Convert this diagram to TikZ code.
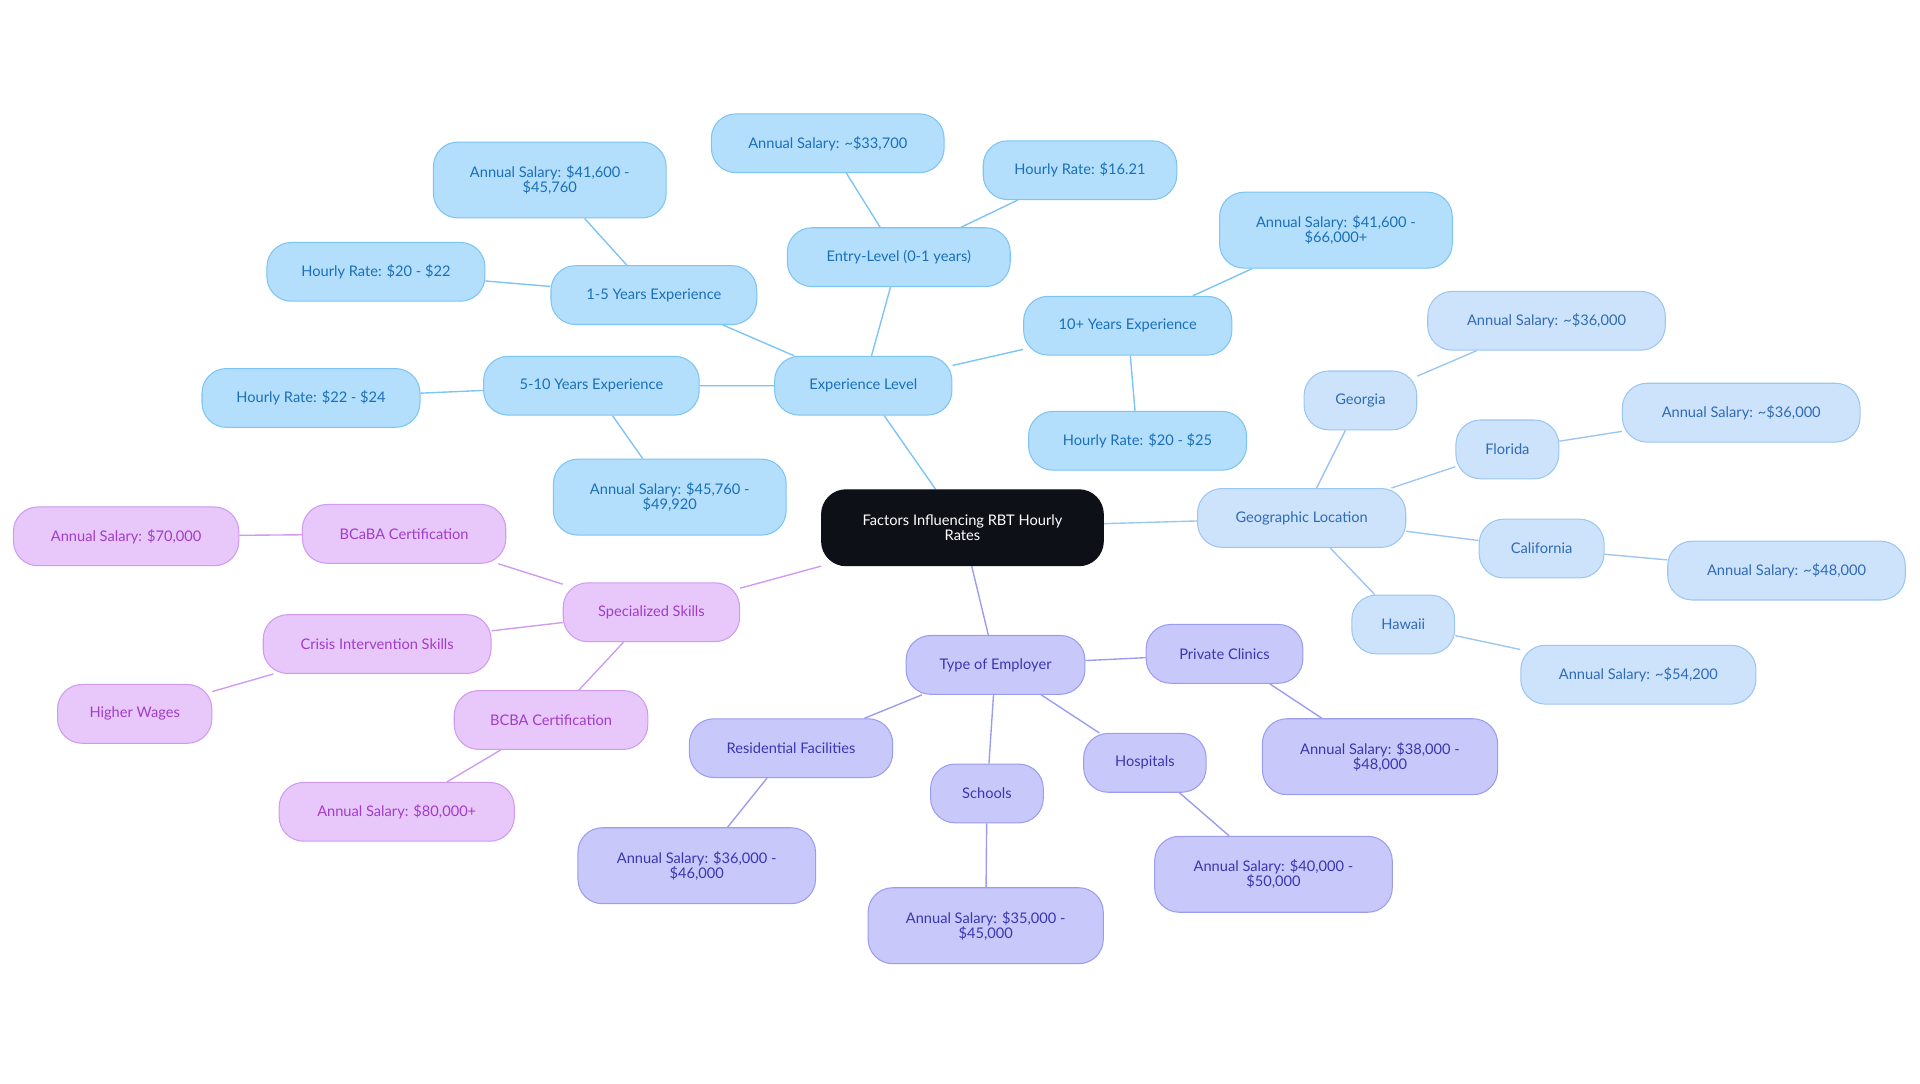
\documentclass[tikz,border=0pt]{standalone}
\usepackage{fontspec}
\setmainfont{Lato}
\usetikzlibrary{backgrounds}
\definecolor{expfill}{HTML}{B3DFFC}\definecolor{expline}{HTML}{7CC4F4}\definecolor{exptext}{HTML}{1A6FB8}
\definecolor{geofill}{HTML}{CDE2FB}\definecolor{geoline}{HTML}{9CC6F2}\definecolor{geotext}{HTML}{2F6CB5}
\definecolor{empfill}{HTML}{C8C9FA}\definecolor{empline}{HTML}{9A9CF0}\definecolor{emptext}{HTML}{3A36B0}
\definecolor{skifill}{HTML}{E8C8FA}\definecolor{skiline}{HTML}{CF9AF0}\definecolor{skitext}{HTML}{A03CC8}
\definecolor{rootfill}{HTML}{0D1117}
\begin{document}
\begin{tikzpicture}[x=0.025cm,y=-0.025cm,
  box/.style={rounded corners=0.5cm, draw, line width=0.6pt, align=center,
    font=\fontsize{8.5}{8.5}\selectfont, inner sep=0pt, minimum height=1.2cm},
  expbox/.style={box, fill=expfill, draw=expline, text=exptext},
  geobox/.style={box, fill=geofill, draw=geoline, text=geotext},
  empbox/.style={box, fill=empfill, draw=empline, text=emptext},
  skibox/.style={box, fill=skifill, draw=skiline, text=skitext},
  tall/.style={minimum height=1.55cm},
  explink/.style={draw=expline, line width=0.8pt},
  geolink/.style={draw=geoline, line width=0.8pt},
  emplink/.style={draw=empline, line width=0.8pt},
  skilink/.style={draw=skiline, line width=0.8pt}]
  \useasboundingbox (0,0) rectangle (1568,885);
  % centre
  \node[box, fill=rootfill, draw=rootfill, text=white, minimum width=5.75cm, minimum height=1.55cm] (root) at (786,431) {Factors Influencing RBT Hourly\\Rates};
  % experience
  \node[expbox, minimum width=3.62cm] (exp) at (705,315) {Experience Level};
  \node[expbox, minimum width=4.55cm] (entry) at (734,210) {Entry-Level (0-1 years)};
  \node[expbox, minimum width=4.75cm] (entrya) at (676,117) {Annual Salary: \textasciitilde\$33,700};
  \node[expbox, minimum width=3.95cm] (entryb) at (882,139) {Hourly Rate: \$16.21};
  \node[expbox, minimum width=4.2cm] (onefive) at (534,241) {1-5 Years Experience};
  \node[expbox, tall, minimum width=4.75cm] (onefivea) at (449,147) {Annual Salary: \$41,600 -\\\$45,760};
  \node[expbox, minimum width=4.45cm] (onefiveb) at (307,222) {Hourly Rate: \$20 - \$22};
  \node[expbox, minimum width=4.4cm] (fiveten) at (483,315) {5-10 Years Experience};
  \node[expbox, minimum width=4.45cm] (fivetena) at (254,325) {Hourly Rate: \$22 - \$24};
  \node[expbox, tall, minimum width=4.75cm] (fivetenb) at (547,406) {Annual Salary: \$45,760 -\\\$49,920};
  \node[expbox, minimum width=4.25cm] (tenplus) at (921,266) {10+ Years Experience};
  \node[expbox, tall, minimum width=4.75cm] (tenplusa) at (1091,188) {Annual Salary: \$41,600 -\\\$66,000+};
  \node[expbox, minimum width=4.45cm] (tenplusb) at (929,360) {Hourly Rate: \$20 - \$25};
  % geography
  \node[geobox, minimum width=4.25cm] (geo) at (1063,423) {Geographic Location};
  \node[geobox, minimum width=2.3cm] (georgia) at (1111,327) {Georgia};
  \node[geobox, minimum width=4.85cm] (georgiaa) at (1263,262) {Annual Salary: \textasciitilde\$36,000};
  \node[geobox, minimum width=2.1cm] (florida) at (1231,367) {Florida};
  \node[geobox, minimum width=4.85cm] (floridaa) at (1422,337) {Annual Salary: \textasciitilde\$36,000};
  \node[geobox, minimum width=2.55cm] (california) at (1259,448) {California};
  \node[geobox, minimum width=4.85cm] (californiaa) at (1459,466) {Annual Salary: \textasciitilde\$48,000};
  \node[geobox, minimum width=2.1cm] (hawaii) at (1146,510) {Hawaii};
  \node[geobox, minimum width=4.8cm] (hawaiia) at (1338,551) {Annual Salary: \textasciitilde\$54,200};
  % employer
  \node[empbox, minimum width=3.65cm] (employer) at (813,543) {Type of Employer};
  \node[empbox, minimum width=3.2cm] (clinics) at (1000,534) {Private Clinics};
  \node[empbox, tall, minimum width=4.8cm] (clinicsa) at (1127,618) {Annual Salary: \$38,000 -\\\$48,000};
  \node[empbox, minimum width=2.5cm] (hospitals) at (935,623) {Hospitals};
  \node[empbox, tall, minimum width=4.85cm] (hospitalsa) at (1040,714) {Annual Salary: \$40,000 -\\\$50,000};
  \node[empbox, minimum width=2.3cm] (schools) at (806,648) {Schools};
  \node[empbox, tall, minimum width=4.8cm] (schoolsa) at (805,756) {Annual Salary: \$35,000 -\\\$45,000};
  \node[empbox, minimum width=4.15cm] (residential) at (646,611) {Residential Facilities};
  \node[empbox, tall, minimum width=4.85cm] (residentiala) at (569,707) {Annual Salary: \$36,000 -\\\$46,000};
  % skills
  \node[skibox, minimum width=3.6cm] (skills) at (532,500) {Specialized Skills};
  \node[skibox, minimum width=4.15cm] (bcaba) at (330,436) {BCaBA Certification};
  \node[skibox, minimum width=4.6cm] (bcabaa) at (103,438) {Annual Salary: \$70,000};
  \node[skibox, minimum width=4.65cm] (crisis) at (308,526) {Crisis Intervention Skills};
  \node[skibox, minimum width=3.15cm] (wages) at (110,583) {Higher Wages};
  \node[skibox, minimum width=3.95cm] (bcba) at (450,588) {BCBA Certification};
  \node[skibox, minimum width=4.8cm] (bcbaa) at (324,663) {Annual Salary: \$80,000+};
  \begin{scope}[on background layer]
    \draw[explink] (root) -- (exp);
    \draw[explink] (exp) -- (entry) (entry) -- (entrya) (entry) -- (entryb);
    \draw[explink] (exp) -- (onefive) (onefive) -- (onefivea) (onefive) -- (onefiveb);
    \draw[explink] (exp) -- (fiveten) (fiveten) -- (fivetena) (fiveten) -- (fivetenb);
    \draw[explink] (exp) -- (tenplus) (tenplus) -- (tenplusa) (tenplus) -- (tenplusb);
    \draw[geolink] (root) -- (geo);
    \draw[geolink] (geo) -- (georgia) (georgia) -- (georgiaa);
    \draw[geolink] (geo) -- (florida) (florida) -- (floridaa);
    \draw[geolink] (geo) -- (california) (california) -- (californiaa);
    \draw[geolink] (geo) -- (hawaii) (hawaii) -- (hawaiia);
    \draw[emplink] (root) -- (employer);
    \draw[emplink] (employer) -- (clinics) (clinics) -- (clinicsa);
    \draw[emplink] (employer) -- (hospitals) (hospitals) -- (hospitalsa);
    \draw[emplink] (employer) -- (schools) (schools) -- (schoolsa);
    \draw[emplink] (employer) -- (residential) (residential) -- (residentiala);
    \draw[skilink] (root) -- (skills);
    \draw[skilink] (skills) -- (bcaba) (bcaba) -- (bcabaa);
    \draw[skilink] (skills) -- (crisis) (crisis) -- (wages);
    \draw[skilink] (skills) -- (bcba) (bcba) -- (bcbaa);
  \end{scope}
\end{tikzpicture}
\end{document}
